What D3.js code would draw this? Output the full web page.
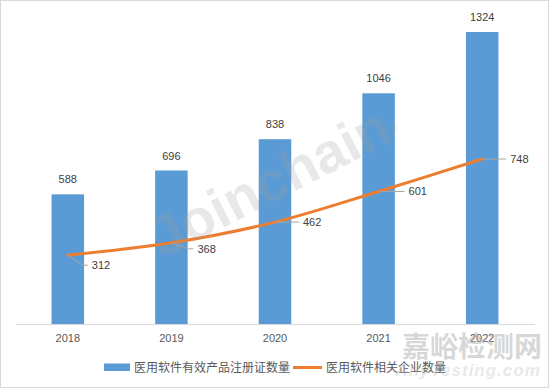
<!DOCTYPE html>
<html><head><meta charset="utf-8">
<script src="https://cdn.jsdelivr.net/npm/d3@7"></script>
<style>
html,body{margin:0;padding:0;background:#fff;}
svg{display:block;}
</style></head>
<body>
<svg id="chart" width="549" height="388"></svg>
<script>
const categories = ["2018", "2019", "2020", "2021", "2022"];
const certCounts = [588, 696, 838, 1046, 1324];
const companyCounts = [312, 368, 462, 601, 748];
const seriesNames = ["医用软件有效产品注册证数量", "医用软件相关企业数量"];
const yDomain = [0, 1400];

// label layout (offsets from the point) for the line series
const lineLabelOffsets = [[24, 10], [26, 6], [28, 0], [30, 0], [28, 0]];

const W = 549, H = 388;
const svg = d3.select("#chart");
const blue = "#5B9BD5", orange = "#ED7D31";
const numFont = "'Liberation Sans', Arial, sans-serif";
const cjkFont = "'Noto Sans CJK SC', 'Noto Sans', sans-serif";

// border
svg.append("rect").attr("x", 0.5).attr("y", 0.5).attr("width", W - 1).attr("height", H - 1)
  .attr("fill", "#fff").attr("stroke", "#d9d9d9").attr("stroke-width", 1);

const plot = {left: 16, right: 534, top: 15, bottom: 324};
const x = d3.scaleBand().domain(categories).range([plot.left, plot.right]).paddingInner(0.686).paddingOuter(0.343);
const xc = d3.scaleBand().domain(categories).range([plot.left, plot.right]);
const y = d3.scaleLinear().domain(yDomain).range([plot.bottom, plot.bottom - 1400 * (292 / 1324)]);

// bars
svg.append("g").selectAll("rect").data(certCounts).join("rect")
  .attr("x", (d, i) => x(categories[i]))
  .attr("width", x.bandwidth())
  .attr("y", d => y(d))
  .attr("height", d => y(0) - y(d))
  .attr("fill", blue);

// x axis
const xAxis = d3.axisBottom(xc).tickSize(0).tickPadding(10);
const gx = svg.append("g").attr("transform", `translate(0,${plot.bottom})`).call(xAxis);
gx.select(".domain").attr("stroke", "#d9d9d9").attr("stroke-width", 1);
gx.selectAll("text").attr("fill", "#595959").attr("font-size", 11).attr("font-family", numFont);

// bar labels
svg.append("g").selectAll("text").data(certCounts).join("text")
  .attr("x", (d, i) => xc(categories[i]) + xc.bandwidth() / 2)
  .attr("y", d => y(d) - 11)
  .attr("text-anchor", "middle")
  .attr("font-size", 11).attr("font-family", numFont).attr("fill", "#404040")
  .text(d => d);

// line
const pts = companyCounts.map((d, i) => [xc(categories[i]) + xc.bandwidth() / 2, y(d)]);
const line = d3.line().curve(d3.curveCatmullRom.alpha(0.5));
svg.append("path").attr("d", line(pts)).attr("fill", "none")
  .attr("stroke", orange).attr("stroke-width", 3).attr("stroke-linecap", "round");

// line labels with leader lines
const lg = svg.append("g");
companyCounts.forEach((d, i) => {
  const [px, py] = pts[i];
  const [dx, dy] = lineLabelOffsets[i];
  const lx = px + dx, ly = py + dy;
  const pathD = dy === 0
    ? `M${px},${py}H${lx - 4}`
    : `M${px},${py}L${lx - 9},${ly}H${lx - 4}`;
  lg.append("path").attr("d", pathD).attr("fill", "none").attr("stroke", "#a6a6a6").attr("stroke-width", 1);
  lg.append("text").attr("x", lx).attr("y", ly).attr("dy", "0.35em")
    .attr("font-size", 11).attr("font-family", numFont).attr("fill", "#404040").text(d);
});

// legend
const leg = svg.append("g");
leg.append("rect").attr("x", 104).attr("y", 363.5).attr("width", 26).attr("height", 7.5).attr("fill", blue);
leg.append("text").attr("x", 134).attr("y", 367.5).attr("dy", "0.35em")
  .attr("font-size", 12).attr("font-family", cjkFont).attr("fill", "#595959").text(seriesNames[0]);
leg.append("line").attr("x1", 293).attr("x2", 322).attr("y1", 367.5).attr("y2", 367.5)
  .attr("stroke", orange).attr("stroke-width", 3);
leg.append("text").attr("x", 326).attr("y", 367.5).attr("dy", "0.35em")
  .attr("font-size", 12).attr("font-family", cjkFont).attr("fill", "#595959").text(seriesNames[1]);

// watermarks
svg.append("text").attr("transform", "translate(270,182) rotate(-27)")
  .attr("text-anchor", "middle").attr("dominant-baseline", "central")
  .attr("font-size", 56).attr("font-weight", "bold").attr("font-family", "'Liberation Sans', Arial, sans-serif")
  .attr("fill", "#a0a0a0").attr("fill-opacity", 0.24).text("Joinchain");
svg.append("text").attr("x", 390).attr("y", 132).attr("font-size", 10)
  .attr("font-family", "'Liberation Sans', Arial, sans-serif").attr("fill", "#a0a0a0").attr("fill-opacity", 0.3).text("®");
svg.append("text").attr("x", 472).attr("y", 345).attr("text-anchor", "middle").attr("dominant-baseline", "central")
  .attr("font-size", 28).attr("font-weight", "bold").attr("font-family", cjkFont)
  .attr("fill", "#b0b0b0").attr("fill-opacity", 0.5).text("嘉峪检测网");
svg.append("text").attr("x", 468).attr("y", 376).attr("text-anchor", "middle")
  .attr("font-size", 17).attr("font-weight", "bold").attr("font-style", "italic").attr("font-family", "'Liberation Sans', Arial, sans-serif")
  .attr("fill", "#b0b0b0").attr("fill-opacity", 0.3).attr("letter-spacing", 1).text("AnyTesting.com");
</script>
</body></html>
